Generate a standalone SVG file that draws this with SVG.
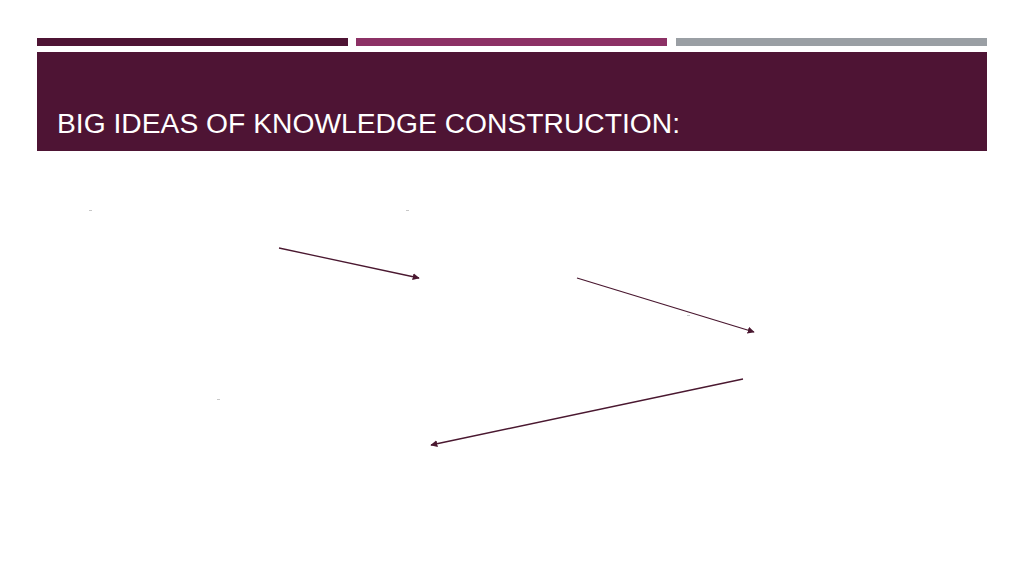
<svg xmlns="http://www.w3.org/2000/svg" width="1024" height="576" viewBox="0 0 1024 576">
<style>
.bar{stroke:none}
.title{font-family:"Gill Sans","Liberation Sans",Arial,sans-serif;font-size:27px;fill:#ffffff}
.conn{stroke:#4a1830;stroke-width:1.3;fill:none;marker-end:url(#ah)}
.speck{fill:#c8c8c8}
</style>
<defs>
<marker id="ah" viewBox="0 0 10 10" refX="9" refY="5" markerWidth="7" markerHeight="7" markerUnits="userSpaceOnUse" orient="auto">
<path d="M0,0 L10,5 L0,10 z" fill="#4a1830"/>
</marker>
</defs>
<rect width="1024" height="576" fill="#ffffff"/>
<g id="topbars">
<rect class="bar" x="37" y="38" width="311" height="8" fill="#4e1434"/>
<rect class="bar" x="356" y="38" width="311" height="8" fill="#8c3165"/>
<rect class="bar" x="676" y="38" width="311" height="8" fill="#9a9fa4"/>
</g>
<g id="header">
<rect x="37" y="52" width="950" height="99" fill="#4e1434"/>
<text class="title" x="57" y="133" textLength="623" lengthAdjust="spacingAndGlyphs">BIG IDEAS OF KNOWLEDGE CONSTRUCTION:</text>
</g>
<g id="specks">
<rect class="speck" x="89" y="210" width="3" height="1"/>
<rect class="speck" x="406" y="210" width="3" height="1"/>
<rect class="speck" x="687" y="315" width="3" height="1"/>
<rect class="speck" x="217" y="399" width="3" height="1"/>
</g>
<g id="connectors">
<line class="conn" x1="279" y1="248" x2="419" y2="278"/>
<line class="conn" x1="577" y1="278" x2="754" y2="332"/>
<line class="conn" x1="743" y1="379" x2="431" y2="445"/>
</g>
</svg>
